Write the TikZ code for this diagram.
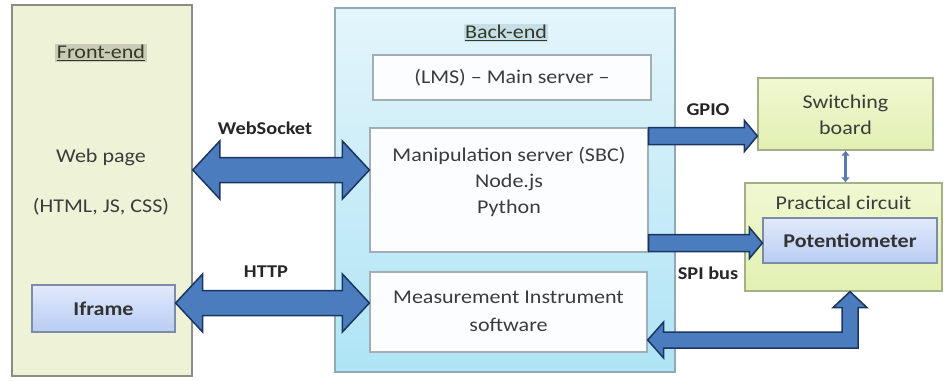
\documentclass[tikz,border=0pt]{standalone}
\usepackage{fontspec}
\setmainfont{Carlito}[FakeStretch=1.13]
\usetikzlibrary{arrows.meta,calc}

\definecolor{frontfill}{HTML}{EEF3D8}
\definecolor{frontdraw}{HTML}{8C8C84}
\definecolor{fronthl}{HTML}{C9CBB6}
\definecolor{backtop}{HTML}{E4F5FB}
\definecolor{backbot}{HTML}{AEE4F5}
\definecolor{backdraw}{HTML}{8FA9B5}
\definecolor{backhl}{HTML}{C6DEE7}
\definecolor{srvfill}{HTML}{FBFDFE}
\definecolor{srvdraw}{HTML}{A3ADB5}
\definecolor{limetop}{HTML}{F0F8D2}
\definecolor{limebot}{HTML}{E2F0B2}
\definecolor{limedraw}{HTML}{A4AE88}
\definecolor{bluetop}{HTML}{E2EAFC}
\definecolor{bluebot}{HTML}{B8CCF3}
\definecolor{bluedraw}{HTML}{7D8BA6}
\definecolor{arrfill}{HTML}{4A7CBE}
\definecolor{arrdraw}{HTML}{1B3560}
\definecolor{linkcol}{HTML}{5B7AAE}
\definecolor{txtgray}{HTML}{3C3C3C}
\definecolor{titlecol}{HTML}{333A26}

% horizontal block arrow with heads at both ends:
% #1 left tip, #2 right tip, #3 shaft half width, #4 head half width, #5 head length
\newcommand{\blockdouble}[5]{%
  \draw[blockarrow] let \p1=(#1), \p2=(#2) in
    (\x1,\y1) -- (\x1+#5,\y1+#4) -- (\x1+#5,\y1+#3) -- (\x2-#5,\y1+#3)
    -- (\x2-#5,\y1+#4) -- (\x2,\y1) -- (\x2-#5,\y1-#4) -- (\x2-#5,\y1-#3)
    -- (\x1+#5,\y1-#3) -- (\x1+#5,\y1-#4) -- cycle;}
% horizontal block arrow pointing right: same arguments
\newcommand{\blocksingle}[5]{%
  \draw[blockarrow] let \p1=(#1), \p2=(#2) in
    (\x1,\y1+#3) -- (\x2-#5,\y1+#3) -- (\x2-#5,\y1+#4) -- (\x2,\y1)
    -- (\x2-#5,\y1-#4) -- (\x2-#5,\y1-#3) -- (\x1,\y1-#3) -- cycle;}

\tikzset{
  panel/.style={draw, line width=1.5pt, inner sep=0pt},
  frontpanel/.style={panel, draw=frontdraw, fill=frontfill},
  backpanel/.style={panel, draw=backdraw, top color=backtop, bottom color=backbot},
  srvbox/.style={draw=srvdraw, line width=1.2pt, fill=srvfill, inner sep=0pt,
    font=\fontsize{19.5}{26}\selectfont, text=txtgray},
  limebox/.style={draw=limedraw, line width=1.2pt, top color=limetop, bottom color=limebot,
    inner sep=0pt},
  bluebox/.style={draw=bluedraw, line width=1.2pt, top color=bluetop, bottom color=bluebot,
    inner sep=0pt, font=\bfseries\fontsize{19.5}{24}\selectfont, text=black!80},
  txt/.style={font=\fontsize{19.5}{26}\selectfont, text=txtgray, align=center, inner sep=0pt},
  paneltitle/.style={font=\fontsize{19.5}{24}\selectfont, text=titlecol, inner sep=1.5pt},
  lbl/.style={font=\bfseries\fontsize{18}{22}\selectfont, text=black!85, inner sep=0pt},
  blockarrow/.style={draw=arrdraw, line width=1.5pt, fill=arrfill, line join=miter},
  link/.style={draw=linkcol, line width=2.5pt,
    {Latex[length=5pt,width=9pt]}-{Latex[length=5pt,width=9pt]}},
}

\begin{document}
\begin{tikzpicture}[x=1pt,y=-1pt]
\useasboundingbox (0,0) rectangle (944,380);

% panels
\node[frontpanel, minimum width=180, minimum height=371] (front) at (102,190.5) {};
\node[backpanel, minimum width=340, minimum height=364] (back) at (505,190) {};

% back-end servers
\node[srvbox, minimum width=278, minimum height=45] (lms) at (512,77.5) {(LMS) – Main server –};
\node[srvbox, minimum width=278, minimum height=124] (manip) at (509,190) {};
\node[srvbox, minimum width=277, minimum height=80] (meas) at (508.5,312) {};

% front-end frame
\node[bluebox, minimum width=143, minimum height=47] (iframe) at (103.5,308.5) {Iframe};

% hardware
\node[limebox, minimum width=175, minimum height=72] (switch) at (845.5,114) {};
\node[limebox, minimum width=197, minimum height=108] (pract) at (843.5,237) {};
\node[bluebox, minimum width=174, minimum height=45] (pot) at (850,240.5) {Potentiometer};

% texts
\node[paneltitle, fill=fronthl] (fronttitle) at (101,53) {\underline{Front-end}};
\node[txt] (webpage) at (101,157) {Web page};
\node[txt] (webtech) at (101,207) {(HTML, JS, CSS)};
\node[paneltitle, fill=backhl] (backtitle) at (506,33) {\underline{Back-end}};
\node[txt] (maniptxt) at (509,182) {Manipulation server (SBC)\\Node.js\\Python};
\node[txt, font=\fontsize{19.5}{28}\selectfont] (meastxt) at (508.5,311) {Measurement Instrument\\software};
\node[txt] (switchtxt) at (845.5,115) {Switching\\board};
\node[txt] (practtxt) at (843.5,203) {Practical circuit};

% connections
\coordinate (ws-l) at (front.east |- 0,170);
\coordinate (ws-r) at (manip.west |- 0,170);
\blockdouble{ws-l}{ws-r}{12.5pt}{29pt}{27pt}
\node[lbl] (wslbl) at (265,128) {WebSocket};

\coordinate (http-l) at (iframe.east |- 0,303);
\coordinate (http-r) at (meas.west |- 0,303);
\blockdouble{http-l}{http-r}{12.5pt}{29pt}{27pt}
\node[lbl] (httplbl) at (266,272) {HTTP};

\coordinate (gpio-s) at (manip.east |- 0,136);
\coordinate (gpio-e) at (switch.west |- 0,136);
\blocksingle{gpio-s}{gpio-e}{8.5pt}{15.5pt}{13pt}
\node[lbl] (gpiolbl) at (708,110) {GPIO};

\coordinate (spi-s) at (manip.east |- 0,243);
\coordinate (spi-e) at (pot.west |- 0,243);
\blocksingle{spi-s}{spi-e}{8.5pt}{15.5pt}{13pt}
\node[lbl] (spilbl) at (708,273) {SPI bus};

% elbow arrow between the circuit and the measurement software
\coordinate (ret-top) at (850,0 |- pract.south);
\coordinate (ret-end) at (meas.east |- 0,340);
\draw[blockarrow] let \p1=(ret-top), \p2=(ret-end) in
  (\x1,\y1) -- (\x1+17pt,\y1-16pt) -- (\x1+8pt,\y1-16pt) -- (\x1+8pt,\y2-8pt)
  -- (\x2+16pt,\y2-8pt) -- (\x2+16pt,\y2-18pt) -- (\x2,\y2) -- (\x2+16pt,\y2+18pt)
  -- (\x2+16pt,\y2+8pt) -- (\x1-8pt,\y2+8pt) -- (\x1-8pt,\y1-16pt)
  -- (\x1-17pt,\y1-16pt) -- cycle;

\draw[link] (switch.south) -- (switch.south |- pract.north);
\end{tikzpicture}
\end{document}
